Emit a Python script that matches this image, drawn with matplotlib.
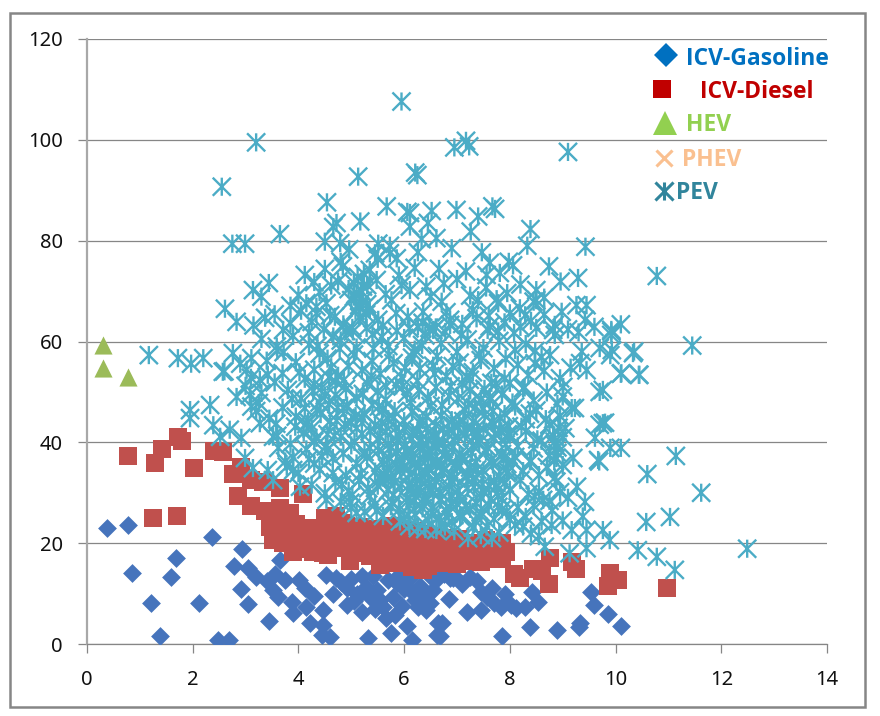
import matplotlib
matplotlib.use('Agg')
import matplotlib.pyplot as plt
from matplotlib.lines import Line2D
from matplotlib.patches import Rectangle
from matplotlib.path import Path

plt.rcParams['font.family'] = ['Noto Sans', 'DejaVu Sans']

# values
gas_x = [0.37, 0.78, 2.36, 2.94, 1.68, 1.59, 0.85, 2.79, 3.05, 3.65,
         1.22, 2.12, 2.92, 3.05, 3.4, 3.52, 3.62, 3.75, 4.01, 4.12,
         3.87, 3.9, 4.15, 4.47, 3.44, 4.22, 4.47, 4.44, 4.6, 1.38,
         2.48, 2.69, 5.32, 5.76, 6.14, 6.05, 6.64, 6.63, 6.85, 4.53,
         4.72, 4.91, 4.91, 5.2, 5.2, 5.35, 5.48, 5.6, 5.83, 5.79,
         5.86, 6.17, 6.26, 6.42, 6.39, 6.61, 6.92, 6.87, 6.71, 6.68,
         7.18, 7.46, 7.37, 7.46, 7.66, 7.56, 7.84, 8.03, 8.12, 8.29,
         8.41, 8.53, 7.86, 8.38, 8.89, 9.33, 9.31, 9.53, 9.59, 9.86,
         10.1,
         4.65, 4.8, 5.0, 5.1, 5.28, 5.42, 5.55, 5.7, 5.9, 6.0,
         6.1, 6.3, 6.5, 6.55, 6.75, 6.95, 7.1, 7.25, 7.7, 7.9,
         5.05, 5.18, 5.45, 5.65, 5.95, 6.2, 6.48, 4.3, 3.55, 3.2]
gas_y = [23.1, 23.7, 21.2, 18.8, 17, 13.3, 14.1, 15.5, 15, 16.7,
         8.2, 8.1, 10.9, 7.9, 12.4, 10.7, 9.4, 12.7, 12.6, 11.1,
         8.4, 6.1, 7.4, 6.7, 4.6, 4.2, 3.8, 1.8, 1.4, 1.6,
         0.8, 0.8, 1.2, 2.2, 0.7, 3.5, 4.2, 1.7, 8.9, 13.7,
         13, 11.1, 7.7, 6.4, 13.4, 9.4, 10.7, 7.4, 5.8, 9.4,
         12.1, 10.1, 7.4, 6.7, 9.4, 12.7, 13.1, 13.1, 4.2, 1.6,
         6.4, 6.7, 12.4, 10.4, 11.1, 9.4, 7.4, 7.7, 7.1, 7.4,
         10.4, 8.4, 1.6, 3.4, 2.8, 4.2, 3.4, 10.4, 7.7, 6,
         3.6,
         9.9, 12.3, 12.9, 9.9, 11.4, 13.5, 8.8, 12.6, 13.6, 11,
         12.9, 11.5, 13.3, 10.7, 13.8, 13.4, 11.9, 13.2, 8.2, 9.9,
         8.6, 10.2, 6.9, 5.2, 7.6, 8.8, 8.1, 9.6, 13.9, 13.2]

diesel_x = [0.77, 1.29, 1.41, 1.72, 1.79, 1.25, 1.7, 2.02, 2.4, 2.57,
            2.92, 2.76, 2.86, 3.11, 3.33, 3.65, 4.08, 3.1, 3.37, 3.65,
            3.84, 3.46, 3.52, 3.71, 3.9, 3.71, 4.28, 4.47, 4.18, 4.5,
            4.72, 4.47, 4.79, 4.98, 4.98, 5.17, 5.29, 5.48, 5.54, 5.79,
            5.83, 6.05, 6.36, 5.98, 6.3, 6.61, 6.87, 6.99, 6.8, 7.3,
            7.4, 7.75, 7.93, 8.08, 8.2, 8.44, 8.6, 8.76, 8.74, 9.17,
            9.26, 9.9, 10.04, 9.86, 10.97,
            3.6, 3.85, 4.0, 4.2, 4.35, 4.6, 4.75, 4.9, 5.05, 5.2,
            5.35, 5.45, 5.65, 5.75, 5.9, 6.0, 6.15, 6.25, 6.45, 6.55,
            6.7, 6.8, 6.95, 7.1, 7.25, 7.5, 7.6, 7.85, 6.4, 5.6,
            3.55, 3.75, 3.95, 4.12, 4.3, 4.55, 4.7, 4.85, 5.1, 5.25,
            5.42, 5.6, 5.72, 5.9, 6.1, 6.2, 6.35, 6.55, 6.7, 6.9,
            7.05, 7.2, 7.35, 7.55, 7.7, 7.85, 7.0, 7.45, 7.65, 6.15]
diesel_y = [37.2, 35.9, 38.7, 41, 40.3, 25, 25.3, 35, 38.2, 38.1,
            35.2, 33.7, 29.4, 32.5, 32.2, 31, 29.8, 27.4, 26.3, 27,
            26, 23.3, 20.6, 22, 18.3, 20, 18.3, 18, 23, 25,
            25.3, 22, 21.3, 16.4, 20, 23.3, 20, 18, 15.7, 22,
            16, 19.3, 14.7, 22.6, 21.3, 17.3, 20, 16.7, 21, 16.4,
            19.3, 18.7, 18.3, 13.9, 13, 14.9, 14.4, 17, 11.9, 16.3,
            14.9, 14.1, 12.7, 11.5, 11.1,
            24.5, 23.6, 21.5, 20.4, 19.6, 23.8, 19.1, 23.5, 18.4, 21.7,
            17.4, 22.9, 20.7, 16.9, 18.6, 16.2, 20.3, 18.2, 15.4, 19.5,
            16.1, 18.9, 19.4, 17.6, 20.1, 17.2, 19.6, 16.8, 21.8, 19.2,
            22.4, 24.8, 23.9, 18.9, 22.6, 17.6, 21.1, 24, 20.9, 18.1,
            21.4, 17.1, 23.4, 21.1, 18.3, 22.5, 17.2, 21.5, 18.5, 17.9,
            20.9, 16.6, 18.7, 20.7, 16.9, 20, 15.9, 16.3, 17.9, 15.2]

hev_x = [0.31, 0.31, 0.78]
hev_y = [59.3, 54.8, 52.9]

pev_x = [5.95, 3.2, 2.55, 6.95, 7.17, 7.23, 9.1, 5.13, 6.21, 6.25,
         4.54, 5.67, 6.11, 6.06, 6.52, 6.99, 7.67, 7.72, 7.4, 4.72,
         5.17, 4.66, 8.39, 6.45, 6.11, 7.26, 3.65, 2.75, 2.99, 4.5,
         8.33, 9.43, 4.79, 5.51, 5.73, 6.33, 6.61, 6.9, 4.96, 5.45,
         5.73, 5.86, 6.26, 7.47, 7.62, 7.98, 8.06, 6.66, 7.17, 7.56,
         7.81, 8.74, 8.96, 9.29, 4.12, 4.5, 4.84, 4.75, 5.35, 5.48,
         5.22, 3.44, 3.14, 3.3, 2.61, 2.83, 3.37, 3.71, 4.15, 4.34,
         4.53, 4.69, 4.34, 5.0, 5.17, 5.1, 5.95, 6.11, 6.42, 5.76,
         6.71, 7.4, 7.78, 8.19, 8.5, 8.5, 8.0, 8.29, 8.98, 9.26,
         9.45, 9.42, 9.92, 7.37, 6.87, 6.36, 6.07, 6.26, 6.55, 6.87,
         5.51, 5.29, 5.03, 4.66, 7.62, 7.78, 8.5, 8.82,
         # right side
         10.78, 11.45, 10.1, 9.92, 10.35, 10.1, 10.45, 9.7, 9.93, 9.76,
         9.17, 9.7, 9.8, 9.67, 9.9, 10.1, 10.6, 11.62, 11.14, 10.58,
         11.03, 10.42, 10.78, 11.12, 12.49, 9.27, 9.42, 9.38, 9.17, 9.45,
         9.76, 9.89, 9.45, 9.13, 8.66, 8.79, 8.25, 7.94, 8.63, 8.88,
         7.97, 7.75, 7.37, 7.06, 7.56, 7.21, 7.66, 6.77, 8.47, 8.38,
         8.85, 8.88, 9.2, 9.69, 9.61, 9.76, 9.23, 9.7, 10.11, 10.44,
         10.33, 9.9, 9.36, 9.33, 9.45, 9.01, 9.92, 8.85, 8.47, 8.76,
         8.0, 7.62,
         # left side
         1.17, 1.72, 1.97, 2.2, 2.76, 2.57, 3.11, 3.59, 1.95, 1.95,
         2.33, 2.39, 2.7, 2.52, 2.92, 2.83, 3.08, 3.27, 3.02, 3.11,
         3.27, 3.52, 2.99, 3.14, 3.42, 3.52, 4.03, 4.53, 4.98, 5.1,
         5.92, 6.26, 6.61, 3.9, 3.9,
         # y about 60
         3.3, 3.6, 3.9, 4.2, 4.4, 4.8, 5.1, 5.4, 5.7, 6.0,
         6.2, 6.4, 6.7, 7.0, 7.2, 7.5, 7.8, 8.1, 8.3, 8.6,
         # y about 55
         2.6, 2.9, 3.1, 3.4, 3.7, 3.95, 4.3, 4.55, 4.75, 4.95,
         5.05, 5.2, 5.4, 5.55, 5.8, 5.95, 6.15, 6.3, 6.55, 6.8,
         7.05, 7.3, 7.45, 7.7, 7.9, 8.15, 8.35, 8.65, 8.95, 9.15,
         # y about 50
         3.0, 3.3, 3.55, 3.8, 4.05, 4.3, 4.5, 4.7, 4.9, 5.1,
         5.3, 5.5, 5.65, 5.85, 6.05, 6.25, 6.45, 6.6, 6.85, 7.1,
         7.25, 7.45, 7.65, 7.85, 8.05, 8.25, 8.45, 8.7, 8.9, 9.0,
         # y about 45
         3.2, 3.45, 3.7, 3.95, 4.15, 4.35, 4.6, 4.85, 5.0, 5.25,
         5.45, 5.6, 5.8, 6.0, 6.15, 6.35, 6.5, 6.7, 6.95, 7.15,
         7.3, 7.5, 7.7, 7.9, 8.1, 8.3, 8.5, 8.75, 8.95, 9.05,
         # y about 40
         3.6, 3.85, 4.1, 4.3, 4.55, 4.8, 5.0, 5.2, 5.35, 5.5,
         5.65, 5.75, 5.9, 6.05, 6.15, 6.25, 6.35, 6.45, 6.55, 6.65,
         6.75, 6.85, 6.95, 7.05, 7.15, 7.3, 7.4, 7.55, 7.7, 7.85,
         8.0, 8.15, 8.3, 8.45, 8.6, 8.75, 8.9, 9.0, 6.3, 6.6,
         # y about 35
         3.75, 4.0, 4.2, 4.4, 4.65, 4.9, 5.1, 5.3, 5.45, 5.6,
         5.75, 5.85, 6.0, 6.1, 6.2, 6.3, 6.4, 6.5, 6.6, 6.7,
         6.8, 6.9, 7.0, 7.1, 7.2, 7.35, 7.5, 7.65, 7.8, 7.95,
         8.1, 8.25, 8.4, 8.55, 8.7, 8.85, 9.0, 6.45, 6.75, 7.25,
         # y about 30
         4.25, 4.5, 4.7, 4.95, 5.15, 5.35, 5.5, 5.65, 5.8, 5.95,
         6.05, 6.15, 6.3, 6.4, 6.5, 6.6, 6.7, 6.85, 6.95, 7.05,
         7.2, 7.3, 7.45, 7.6, 7.7, 7.85, 8.0, 8.2, 8.35, 8.55,
         8.75, 8.95, 9.1, 4.8, 5.7, 6.25, 6.55, 6.9, 7.5, 7.9,
         # y about 25
         5.0, 5.25, 5.45, 5.6, 5.75, 5.9, 6.0, 6.1, 6.2, 6.35,
         6.45, 6.55, 6.65, 6.8, 6.9, 7.0, 7.1, 7.25, 7.35, 7.45,
         7.6, 7.7, 7.85, 8.0, 8.15, 8.3, 8.45, 8.6, 8.8, 9.0,
         # y about 22
         6.1, 6.4, 6.7, 6.95, 7.3, 7.45, 7.8, 8.1, 8.4, 8.55,
         # y about 65
         3.15, 3.55, 3.85, 4.05, 4.25, 4.6, 4.85, 5.15, 5.35, 5.6,
         5.85, 6.1, 6.35, 6.6, 6.8, 7.1, 7.3, 7.6, 7.9, 8.2,
         8.4, 8.65, 8.85, 9.1, 9.3, 9.6, 4.95, 5.05, 5.2, 5.3,
         # thick clusters
         5.05, 5.12, 5.18, 5.24, 5.3, 5.08, 5.15, 5.22, 5.28, 5.02,
         4.4, 4.62, 4.8, 5.5, 5.65, 5.9, 6.2, 6.5, 6.75, 7.0,
         7.25, 7.55, 7.75, 7.95, 8.2, 8.45, 8.65, 3.85, 4.0, 4.3,
         4.2, 4.36, 4.48, 4.62, 4.78, 4.9, 4.44, 4.58, 4.72, 4.86,
         4.25, 4.4, 4.55, 4.7, 4.85, 4.15, 4.3, 4.45, 4.65, 4.82,
         5.1, 5.25, 5.4, 5.58, 5.72, 5.88, 5.52, 5.68, 5.82, 5.96,
         6.02, 6.12, 6.22, 6.32, 6.42, 6.52, 6.62, 6.72, 6.82, 6.92,
         6.08, 6.18, 6.28, 6.38, 6.48, 6.58, 6.68, 6.78, 6.88, 6.98,
         7.02, 7.12, 7.22, 7.32, 7.42, 7.52, 7.62, 7.72, 7.82, 7.92,
         7.08, 7.18, 7.28, 7.38, 7.48, 7.58, 7.68, 7.78, 7.88, 7.98,
         8.05, 8.22, 8.38, 8.52, 8.68, 8.82, 8.86, 8.9, 8.84, 8.92,
         5.42, 5.58, 5.72, 5.86, 6.02, 6.18, 6.34, 6.48, 6.62, 6.78,
         6.92, 7.08, 7.24, 7.42, 7.58, 7.74, 7.92, 8.08, 8.28, 8.48,
         3.25, 3.42, 3.58, 3.72, 3.88, 4.02, 3.62, 3.78, 3.94, 4.12,
         5.02, 5.18, 5.32, 5.48, 5.62, 5.78, 5.92, 6.08, 6.22, 6.38,
         6.52, 6.68, 6.84, 7.02, 7.16, 7.32, 7.46, 7.64, 7.78, 7.94,
         # middle of the cloud
         4.12, 4.28, 4.42, 4.58, 4.74, 4.92, 5.08, 5.22, 5.38, 5.52,
         5.66, 5.82, 5.98, 6.12, 6.28, 6.42, 6.58, 6.72, 6.88, 7.02,
         7.18, 7.34, 7.52, 7.68, 7.84, 4.18, 4.34, 4.52, 4.68, 4.88,
         5.06, 5.2, 5.36, 5.54, 5.7, 5.84, 6.0, 6.16, 6.3, 6.46,
         6.6, 6.74, 6.9, 7.04, 7.2, 7.36, 7.5, 7.66, 7.8, 7.96,
         5.55, 5.7, 5.85, 6.0, 6.15, 6.3, 6.45, 6.6, 6.75, 6.9]
pev_y = [107.6, 99.5, 90.7, 98.5, 99.8, 98.7, 97.6, 92.7, 93.5, 93,
         87.6, 86.8, 85.5, 85.7, 85.9, 86.1, 86.8, 86.3, 84.8, 83.5,
         83.8, 82.7, 82.3, 83.5, 82.8, 81.8, 81.3, 79.4, 79.4, 79.8,
         79, 78.8, 79.5, 79.4, 79, 80.3, 80.5, 78.5, 78.3, 77.5,
         77.5, 76.5, 77.7, 77.7, 75.6, 75.8, 75.1, 74.4, 73.9, 73.2,
         73.6, 74.9, 71.9, 72.6, 73.2, 74.4, 74.9, 71.9, 74.2, 72.2,
         70.9, 71.6, 70.2, 68.9, 66.5, 63.9, 64.7, 62.3, 67.6, 66.9,
         67.6, 64.9, 65.6, 68.2, 66.9, 69.6, 71.2, 70.2, 70.9, 68.2,
         67.9, 68.2, 67.6, 66.6, 70.2, 68.2, 65.6, 65.2, 65.9, 67.2,
         67.2, 64.3, 62, 64.6, 64.3, 65.9, 64.9, 63, 62.3, 63.3,
         64.3, 62.7, 62, 61, 63, 62, 62.7, 62.3,
         # right side
         73, 59.2, 63.4, 62.3, 58, 53.6, 53.4, 58.7, 58.3, 50.4,
         46.8, 43.5, 43.9, 36.5, 38.9, 38.9, 33.7, 30, 37.3, 24.2,
         25.2, 18.6, 17.3, 14.7, 18.9, 31.2, 28.2, 25.3, 22.6, 22.6,
         22.6, 20.6, 19, 18, 19.3, 23.6, 23.3, 26.3, 28.6, 32.2,
         34.2, 31.2, 27.9, 25.3, 23.3, 21, 21, 23.3, 29.3, 36.2,
         40.1, 36.9, 36.9, 36.2, 40.9, 43.8, 46.8, 50, 53.7, 53.4,
         57.7, 57.3, 58, 55.7, 54.3, 51, 61.3, 61.3, 55.7, 57.3,
         51.8, 49,
         # left side
         57.3, 56.7, 55.6, 56.7, 57.7, 54, 56.7, 59, 46.4, 44.8,
         47.4, 43.4, 42.5, 41.1, 40.9, 49, 49.4, 52.4, 54.4, 47.1,
         43.8, 41.1, 36.9, 34.9, 34.5, 32.5, 31.2, 28.6, 28, 26,
         24.3, 23, 22.6, 34.5, 37,
         # y about 60
         60.5, 58.2, 61.1, 59.4, 57.6, 60.2, 58.8, 61.4, 59.1, 60.7,
         58.4, 61.2, 59.6, 57.9, 60.4, 58.7, 60.1, 58.3, 59.5, 56.9,
         # y about 55
         54.1, 55.6, 52.8, 56.2, 53.7, 55.9, 54.4, 56.6, 53.2, 55.1,
         57.4, 54.3, 56.1, 53.6, 55.7, 52.9, 56.8, 54.6, 55.2, 53.1,
         55.8, 53.9, 56.3, 54.7, 52.6, 55.4, 53.3, 54.2, 52.7, 54.8,
         # y about 50
         51.2, 49.8, 51.9, 50.4, 48.7, 51.5, 49.3, 52.1, 50.6, 48.9,
         51.7, 50.1, 48.4, 51.3, 49.6, 52.2, 48.8, 50.9, 49.2, 51.6,
         50.3, 48.6, 51.8, 49.5, 47.9, 50.7, 48.3, 49.9, 47.6, 49.1,
         # y about 45
         46.2, 44.7, 46.9, 45.1, 43.6, 46.5, 44.2, 46.8, 43.9, 45.7,
         43.4, 46.6, 44.9, 42.9, 46.1, 44.4, 47.2, 45.3, 43.2, 46.4,
         44.1, 46.7, 43.7, 45.6, 47.1, 44.6, 46.3, 43.5, 45.2, 42.8,
         # y about 40
         41.3, 39.7, 41.9, 40.2, 38.6, 41.1, 39.4, 41.7, 38.9, 40.6,
         42.1, 39.1, 41.4, 38.4, 40.7, 42.3, 39.6, 37.9, 41.2, 40.1,
         38.7, 42.4, 40.4, 37.6, 41.6, 39.3, 42, 38.2, 40.8, 37.7,
         41.5, 39.2, 42.2, 38.8, 40.3, 37.4, 39, 41, 38.8, 39.2,
         # y about 35
         36.2, 33.9, 36.7, 34.6, 36.9, 33.4, 35.8, 37, 34.2, 36.4,
         33.1, 35.6, 37.2, 33.7, 35.9, 36.6, 34.1, 37.1, 33.2, 35.4,
         36.8, 33.6, 35.2, 37.3, 33.8, 36.1, 34.4, 36.5, 33.3, 35.7,
         37.1, 34.3, 36.3, 33.5, 35.1, 33, 35.5, 35.1, 34.7, 35,
         # y about 30
         31.6, 29.9, 32.1, 30.4, 32.4, 29.3, 31.4, 32.7, 29.6, 31.7,
         28.9, 31.1, 32.6, 29.2, 30.8, 32.3, 28.7, 31.3, 32.9, 29.4,
         30.9, 32.8, 29.1, 31.5, 32.2, 28.8, 30.6, 32.5, 29.7, 30.2,
         28.4, 30.1, 29, 28.2, 30.5, 30.7, 29.8, 29.5, 30.3, 31.9,
         # y about 25
         27, 26.2, 27.7, 25.4, 27.3, 26.6, 24.9, 27.6, 25.7, 26.9,
         24.6, 27.2, 25.1, 26.4, 24.2, 27.8, 25.5, 26.8, 24.4, 26.1,
         27.4, 24.8, 26.7, 24.7, 27.1, 25.2, 27.5, 24.3, 26.5, 24.5,
         # y about 22
         23.4, 22.8, 23.7, 22.4, 23.1, 21.6, 22.1, 23.6, 21.9, 21.4,
         # y about 65
         63.2, 65.4, 63.6, 66.1, 63.9, 65.2, 63.4, 64.8, 66.4, 63.1,
         65.6, 62.6, 63.7, 62.8, 65.8, 63.5, 66.2, 65.1, 63.8, 62.9,
         64.1, 65.3, 63.3, 62.4, 61.8, 62.9, 70.4, 68.9, 69.8, 67.4,
         # thick clusters
         71.6, 72.8, 70.1, 73.4, 71.2, 66.1, 67.2, 68.1, 65.4, 62.7,
         69.8, 71.1, 75.8, 76.4, 69.4, 73.1, 74.6, 68.9, 71.5, 72.4,
         69.1, 70.7, 68.4, 69.6, 71.3, 67.9, 68.7, 67.1, 69.2, 71.8,
         61.8, 59.1, 62.4, 54.9, 58.6, 62.1, 50.8, 47.6, 44.3, 52.4,
         42.7, 47.9, 41.6, 49.4, 37.8, 38.6, 35.8, 37.2, 33.9, 31.6,
         42.8, 38.1, 47.4, 43.9, 36.9, 40.2, 38.4, 34.9, 32.1, 36.1,
         39.4, 36.2, 33.2, 40.6, 42.7, 38.1, 36.3, 34.1, 41.8, 39.1,
         31.4, 28.2, 35.1, 37.7, 31.9, 41.3, 30.2, 37.4, 27.9, 35.7,
         41.1, 44.2, 47.6, 42.3, 39.9, 45.4, 48.4, 41.7, 44.8, 39.6,
         36.6, 33.1, 37.9, 34.6, 31.7, 38.9, 35.6, 29.4, 36.9, 43.2,
         36.2, 43.1, 45.7, 40.6, 44.6, 41.3, 39.4, 37.9, 36.3, 42.9,
         58.6, 60.9, 57.3, 62.1, 54.8, 57.7, 59.3, 62.7, 57.1, 61.9,
         55.1, 61.3, 52.4, 57.4, 62.3, 51.6, 56.6, 61.7, 50.9, 58.1,
         47.8, 53.4, 43.7, 57.9, 48.6, 53.9, 38.9, 35.2, 43.1, 46.8,
         29.6, 33.8, 30.9, 26.4, 33.7, 28.1, 34.4, 25.6, 29.3, 28.4,
         26, 28.6, 25.9, 30.4, 27.4, 31.1, 25.4, 28.7, 27.2, 33.9,
         # middle of the cloud
         52.6, 50.2, 45.6, 52.9, 46.9, 47.3, 45.2, 49.6, 53.2, 47.1,
         51.1, 46.2, 51.2, 47.9, 50.3, 45.1, 53.6, 47.4, 51.1, 48.7,
         53.1, 46.9, 50.6, 46.2, 42.2, 44.1, 40.9, 39.2, 41.3, 43.6,
         40.1, 44.8, 42.2, 41.1, 44.6, 42.8, 44.2, 41.9, 43.8, 40.4,
         43.4, 42.6, 44.4, 43.7, 42.8, 41.2, 42.6, 43.9, 42.4, 41.6,
         32.7, 39.6, 37.9, 35.2, 38.3, 30.9, 33.7, 35.8, 39.9, 32.4]

x_ticks = [0, 2, 4, 6, 8, 10, 12, 14]
y_ticks = [0, 20, 40, 60, 80, 100, 120]

legend_names = ['ICV-Gasoline', 'ICV-Diesel', 'HEV', 'PHEV', 'PEV']
legend_colors = ['#0070C0', '#C00000', '#92D050', '#FAC090', '#31859C']

W, H = 880, 716

# Excel style star: an X with a vertical line through it
star = Path([(-1, -1), (1, 1), (-1, 1), (1, -1), (0, -1), (0, 1)],
            [Path.MOVETO, Path.LINETO, Path.MOVETO, Path.LINETO, Path.MOVETO, Path.LINETO])

fig = plt.figure(figsize=(W / 100, H / 100), dpi=100)
ax = fig.add_axes([87 / W, 1 - 644 / H, 740 / W, 605 / H])

ax.scatter(gas_x, gas_y, marker='D', s=92, color='#4674BC', linewidths=0, zorder=3)
ax.scatter(diesel_x, diesel_y, marker='s', s=172, color='#C0504D', linewidths=0, zorder=4)
ax.scatter(hev_x, hev_y, marker='^', s=170, color='#9BBB59', linewidths=0, zorder=5)
ax.scatter(pev_x, pev_y, marker=star, s=170, facecolors='none', edgecolors='#4BACC6',
           linewidths=1.7, zorder=6)

ax.set_xlim(0, 14)
ax.set_ylim(0, 120)
ax.set_xticks(x_ticks)
ax.set_yticks(y_ticks)
ax.grid(axis='y', color='#868686', linewidth=0.9, zorder=1)
ax.set_axisbelow(True)
ax.tick_params(axis='both', length=6.5, width=0.9, color='#868686', labelsize=14.5,
               labelcolor='#111111')
ax.tick_params(axis='y', pad=11)
ax.tick_params(axis='x', pad=12)
for side in ['top', 'right']:
    ax.spines[side].set_visible(False)
ax.spines['left'].set_color('#A8A8A8')
ax.spines['left'].set_linewidth(1.6)
ax.spines['bottom'].set_color('#868686')
ax.spines['bottom'].set_linewidth(0.9)

# hand placed legend, it sits inside the plot like a text box
legend_text_x = [686, 700, 686, 682, 676]
legend_y = [59, 92, 125, 160, 193]
legend_marks = [('D', 11.9, '#0070C0', 666, 55), ('s', 12.6, '#C00000', 662, 89),
                ('^', 17, '#92D050', 665, 123), ('x', 12, '#FAC090', 664, 158),
                (star, 13, '#31859C', 664, 191)]
for name, col, tx, ty, mark in zip(legend_names, legend_colors, legend_text_x, legend_y, legend_marks):
    fig.text(tx / W, 1 - ty / H, name, color=col, fontsize=16.5, fontweight='bold',
             family=['Open Sans', 'DejaVu Sans'], va='center', ha='left')
    m, ms, mc, mx, my = mark
    solid = m in ('D', 's', '^')
    fig.add_artist(Line2D([mx / W], [1 - my / H], marker=m, markersize=ms, color=mc,
                          markerfacecolor=mc if solid else 'none',
                          markeredgecolor=mc, markeredgewidth=0 if solid else 2.2,
                          linestyle='none', transform=fig.transFigure))

# chart frame
fig.add_artist(Rectangle((10 / W, 1 - 707 / H), 855 / W, 694 / H, transform=fig.transFigure,
                         fill=False, edgecolor='#868686', linewidth=1.8))

fig.savefig('out.png', dpi=100)
